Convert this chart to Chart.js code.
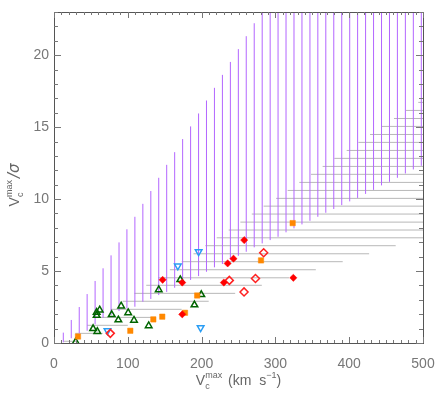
<!DOCTYPE html>
<html>
<head>
<meta charset="utf-8">
<script src="https://cdn.jsdelivr.net/npm/chart.js@4.4.1/dist/chart.umd.min.js"></script>
<style>
  body { margin: 0; background: #fff; }
  #wrap { width: 436px; height: 397px; position: relative; }
</style>
</head>
<body>
<div id="wrap"><canvas id="chart"></canvas></div>
<script>
// vertical hatching (purple): x position, bottom and top of each line
const vLineX = [12.6, 23.4, 34.2, 44.9, 55.7, 66.5, 77.3, 88.1, 98.8, 109.6, 120.4, 131.2, 141.9, 152.7, 163.5, 174.3,
    185.1, 195.9, 206.6, 217.4, 228.2, 239.0, 249.8, 260.5, 271.3, 282.1, 292.9, 303.6, 314.4, 325.2, 336.0, 346.8,
    357.5, 368.3, 379.1, 389.9, 400.7, 411.4, 422.2, 433.0, 443.8, 454.6, 465.3, 476.1, 486.9, 497.7];
const vLineBottom = [0.05, 0.33, 0.67, 0.85, 1.3, 1.76, 1.94, 2.22, 2.41, 2.52, 2.87, 3.06, 3.33, 3.55, 3.84, 4.10,
    4.38, 4.65, 4.95, 5.26, 5.49, 5.81, 6.06, 6.34, 6.65, 6.92, 7.15, 7.38, 7.69, 7.97, 8.24, 8.49,
    8.77, 9.05, 9.31, 9.58, 9.84, 10.08, 10.36, 10.64, 10.95, 11.20, 11.48, 11.78, 12.06, 12.31];
const vLineTop = [0.72, 1.60, 2.50, 3.40, 4.31, 5.19, 6.09, 6.99, 7.90, 8.77, 9.67, 10.56, 11.48, 12.38, 13.26, 14.17,
    15.05, 15.95, 16.85, 17.73, 18.63, 19.53, 20.42, 21.32, 22.22, 23, 23, 23, 23, 23, 23, 23,
    23, 23, 23, 23, 23, 23, 23, 23, 23, 23, 23, 23, 23, 23];

// horizontal hatching (gray): y position, left and right end of each line
const hLineY = [0.12, 0.67, 1.23, 1.78, 2.34, 2.90, 3.45, 4.01, 4.53, 5.09, 5.65, 6.20, 6.76, 7.31, 7.85, 8.40,
    8.96, 9.51, 10.05, 10.60, 11.16, 11.72, 12.27, 12.83, 13.38, 13.94, 14.49, 15.05, 15.60, 16.16, 16.72];
const hLineLeft = [13.5, 28.9, 45, 61, 77, 93, 109, 125, 141, 157, 173, 189, 205, 220.5, 236.7, 252.5,
    268, 284, 301, 316.6, 332.4, 348.2, 364, 379.8, 396.6, 412.4, 428.2, 444, 460.7, 477, 493.6];
const hLineRight = [30, 66, 100, 137, 173, 209.6, 245.5, 281.6, 318.4, 354.8, 391.2, 427, 463, 500, 500, 500,
    500, 500, 500, 500, 500, 500, 500, 500, 500, 500, 500, 500, 500, 500, 500];

// galaxies
const squareX = [32.5, 103.4, 134.6, 146.7, 177.5, 194.0, 280.5, 323.4];
const squareY = [0.45, 0.85, 1.64, 1.83, 2.10, 3.30, 5.74, 8.33];

const diamondX = [147.2, 173.8, 173.8, 230.1, 235.3, 243.2, 257.7, 324.3];
const diamondY = [4.39, 4.20, 1.99, 4.20, 5.53, 5.86, 7.15, 4.53];

const openDiamondX = [76.3, 237.6, 257.5, 273.0, 284.1];
const openDiamondY = [0.67, 4.35, 3.55, 4.48, 6.27];

const triUpX = [29.4, 53.0, 58.7, 57.8, 57.8, 61.9, 78.2, 87.2, 91.0, 100.5, 108.4, 128.3, 141.9, 171.1, 190.3, 199.6];
const triUpY = [0.08, 1.00, 0.80, 1.92, 2.13, 2.29, 1.97, 1.60, 2.57, 2.10, 1.58, 1.20, 3.70, 4.40, 2.65, 3.36];

const triDownX = [72.5, 167.8, 196.0, 198.7];
const triDownY = [0.85, 5.35, 6.34, 1.06];

const xTicks = [0, 100, 200, 300, 400, 500];
const yTicks = [0, 5, 10, 15, 20];

function toPoints(xs, ys) {
    return xs.map((x, i) => ({ x: x, y: ys[i] }));
}

// each segment is two points followed by a gap
function segments(x1, y1, x2, y2) {
    const pts = [];
    for (let i = 0; i < x1.length; i++) {
        pts.push({ x: x1[i], y: y1[i] }, { x: x2[i], y: y2[i] }, { x: x2[i], y: null });
    }
    return pts;
}

function markerSet(xs, ys, style, color, fill, radius, rotation) {
    return {
        data: toPoints(xs, ys),
        pointStyle: style,
        pointRadius: radius,
        pointRotation: rotation || 0,
        pointBackgroundColor: fill,
        pointBorderColor: color,
        pointBorderWidth: fill === 'transparent' ? 1.5 : 0.5,
        showLine: false
    };
}

function lineSet(points, color, width) {
    return {
        data: points,
        showLine: true,
        spanGaps: false,
        borderColor: color,
        borderWidth: width,
        pointRadius: 0,
        fill: false,
        tension: 0
    };
}

const labelFont = '14px "Liberation Sans", Arial, sans-serif';

const axisPlugin = {
    id: 'idlAxes',
    afterDraw(chart) {
        const ctx = chart.ctx;
        const a = chart.chartArea;
        const xs = chart.scales.x;
        const ys = chart.scales.y;
        ctx.save();
        ctx.strokeStyle = '#555';
        ctx.lineWidth = 1;
        ctx.strokeRect(Math.round(a.left) + 0.5, Math.round(a.top) + 0.5,
            Math.round(a.right - a.left), Math.round(a.bottom - a.top));

        // inward ticks on all four sides
        ctx.strokeStyle = '#777';
        ctx.beginPath();
        for (let v = 0; v <= 500; v += 10) {
            const px = Math.round(xs.getPixelForValue(v)) + 0.5;
            const len = v % 100 === 0 ? 6 : 3;
            ctx.moveTo(px, a.bottom); ctx.lineTo(px, a.bottom - len);
            ctx.moveTo(px, a.top); ctx.lineTo(px, a.top + len);
        }
        for (let v = 0; v <= 23; v += 1) {
            const py = Math.round(ys.getPixelForValue(v)) + 0.5;
            const len = v % 5 === 0 ? 7 : 4;
            ctx.moveTo(a.left, py); ctx.lineTo(a.left + len, py);
            ctx.moveTo(a.right, py); ctx.lineTo(a.right - len, py);
        }
        ctx.stroke();

        // tick labels
        ctx.fillStyle = '#777';
        ctx.font = labelFont;
        ctx.textAlign = 'center';
        ctx.textBaseline = 'alphabetic';
        xTicks.forEach(v => ctx.fillText(String(v), xs.getPixelForValue(v), a.bottom + 25));
        ctx.textAlign = 'right';
        ctx.textBaseline = 'middle';
        yTicks.forEach(v => ctx.fillText(String(v), a.left - 5, ys.getPixelForValue(v)));

        // axis titles with sub/superscripts
        const big = '14px "Liberation Sans", Arial, sans-serif';
        const small = '9px "Liberation Sans", Arial, sans-serif';
        ctx.fillStyle = '#666';
        ctx.textBaseline = 'alphabetic';
        ctx.textAlign = 'left';

        function measure(parts) {
            let w = 0;
            parts.forEach(p => {
                ctx.font = p.font;
                p.w = p.adv !== undefined ? p.adv : ctx.measureText(p.t).width;
                w += p.w;
            });
            return w;
        }
        function drawParts(parts, x0) {
            let x = x0;
            parts.forEach(p => {
                ctx.font = p.font;
                ctx.fillText(p.t, x, p.dy || 0);
                if (p.sub) {
                    ctx.fillText(p.sub, x, p.subDy);
                }
                x += p.w;
            });
        }

        ctx.font = small;
        const supW = Math.max(ctx.measureText('max').width, ctx.measureText('c').width) + 2;

        const xParts = [
            { t: 'V', font: big },
            { t: 'max', font: small, dy: -7, sub: 'c', subDy: 4, adv: supW },
            { t: ' (km  s', font: big },
            { t: '\u22121', font: small, dy: -7 },
            { t: ')', font: big }
        ];
        const xw = measure(xParts);
        ctx.save();
        ctx.translate((a.left + a.right) / 2 - xw / 2, 385);
        drawParts(xParts, 0);
        ctx.restore();

        const yParts = [
            { t: 'V', font: big },
            { t: 'max', font: small, dy: -7, sub: 'c', subDy: 4, adv: supW },
            { t: '/\u03c3', font: 'italic 15px "DejaVu Sans", sans-serif' }
        ];
        const yw = measure(yParts);
        ctx.save();
        ctx.translate(19, 185);
        ctx.rotate(-Math.PI / 2);
        drawParts(yParts, -yw / 2);
        ctx.restore();

        ctx.restore();
    }
};

new Chart(document.getElementById('chart'), {
    type: 'scatter',
    data: {
        datasets: [
            markerSet(diamondX, diamondY, 'rectRot', '#ff0000', '#ff0000', 3.6),
            markerSet(openDiamondX, openDiamondY, 'rectRot', '#ff2020', 'transparent', 4),
            markerSet(squareX, squareY, 'rect', '#ff8800', '#ff8800', 3.8),
            markerSet(triUpX, triUpY, 'triangle', '#006400', 'transparent', 3.8),
            markerSet(triDownX, triDownY, 'triangle', '#2a9df4', 'transparent', 3.8, 180),
            lineSet(segments(vLineX, vLineBottom, vLineX, vLineTop), '#b366ff', 1),
            lineSet(segments(hLineLeft, hLineY, hLineRight, hLineY), '#b8b8b8', 1)
        ]
    },
    options: {
        responsive: true,
        maintainAspectRatio: false,
        animation: false,
        events: [],
        layout: { padding: { top: 12, right: 13, left: 0, bottom: 0 } },
        plugins: {
            legend: { display: false },
            tooltip: { enabled: false }
        },
        scales: {
            x: {
                type: 'linear',
                min: 0,
                max: 500,
                grid: { display: false, drawTicks: false },
                border: { display: false },
                ticks: { display: false },
                afterFit: s => { s.height = 54; }
            },
            y: {
                type: 'linear',
                min: 0,
                max: 23,
                grid: { display: false, drawTicks: false },
                border: { display: false },
                ticks: { display: false },
                afterFit: s => { s.width = 54; }
            }
        }
    },
    plugins: [axisPlugin]
});
</script>
</body>
</html>
